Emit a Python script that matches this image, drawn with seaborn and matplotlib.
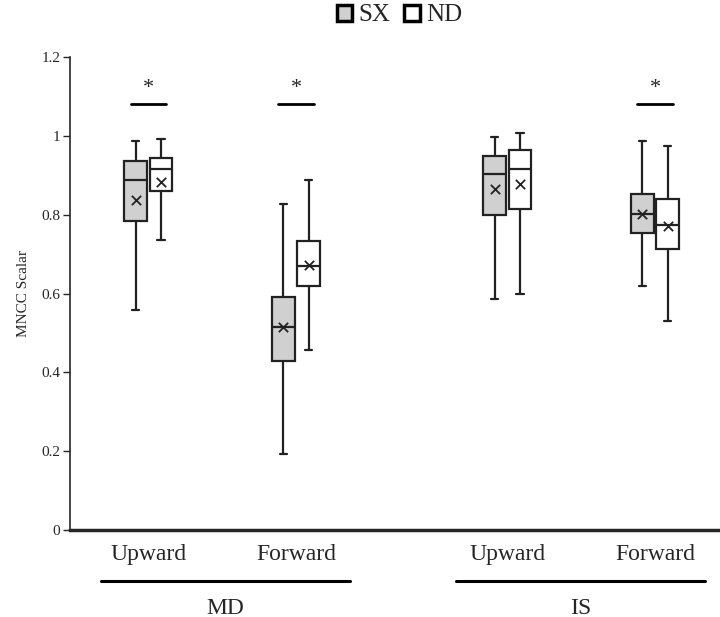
import matplotlib.pyplot as plt
from matplotlib.patches import Patch
import matplotlib.transforms as mtransforms
import pandas as pd
import numpy as np
import seaborn as sns

### Dados ######################################################################
grupos = ["MD", "MD", "IS", "IS"]
direcoes = ["Upward", "Forward", "Upward", "Forward"]
sexos = ["SX", "ND"]

sx_min = [0.558, 0.193, 0.587, 0.618]
sx_q1 = [0.783, 0.430, 0.799, 0.753]
sx_med = [0.888, 0.516, 0.903, 0.801]
sx_q3 = [0.936, 0.590, 0.948, 0.853]
sx_max = [0.987, 0.826, 0.997, 0.987]
sx_media = [0.838, 0.516, 0.866, 0.801]

nd_min = [0.735, 0.457, 0.600, 0.530]
nd_q1 = [0.860, 0.620, 0.815, 0.713]
nd_med = [0.917, 0.670, 0.916, 0.774]
nd_q3 = [0.945, 0.733, 0.963, 0.839]
nd_max = [0.992, 0.887, 1.007, 0.974]
nd_media = [0.884, 0.672, 0.878, 0.770]

significativo = [True, True, False, True]

### Layout #####################################################################
posicao = [0.0, 1.0, 2.43, 3.43]   # centro de cada par (MD | IS separados)
largura = 0.345
desloc = largura / 4
cor_linha = "#222222"
cores = {"SX": "#d0d0d0", "ND": "white"}

### Tabela longa para o seaborn ################################################
linhas = []
for i in range(len(posicao)):
	for sexo, cinco in (("SX", (sx_min, sx_q1, sx_med, sx_q3, sx_max)),
						("ND", (nd_min, nd_q1, nd_med, nd_q3, nd_max))):
		for serie in cinco:
			linhas.append({"pos": posicao[i], "sexo": sexo, "valor": serie[i]})
dados = pd.DataFrame(linhas)

sns.set_style("ticks")
plt.rcParams["font.family"] = ["Liberation Serif", "DejaVu Serif"]

fig = plt.figure(figsize = (7.2, 6.17), dpi = 100)
ax = fig.add_axes([0.0972, 0.141, 0.9028, 0.7666])

sns.boxplot(data = dados, x = "pos", y = "valor", hue = "sexo", hue_order = sexos,
			native_scale = True, dodge = True, width = largura, gap = 0.1,
			whis = (0, 100), palette = cores, saturation = 1,
			linecolor = cor_linha, linewidth = 1.6, legend = False, ax = ax,
			capwidths = 0.05)

# médias (x)
pos_sx = [p - desloc for p in posicao]
pos_nd = [p + desloc for p in posicao]
sns.scatterplot(x = pos_sx, y = sx_media, marker = "x", color = cor_linha, s = 45,
				linewidth = 1.3, legend = False, ax = ax, zorder = 5)
sns.scatterplot(x = pos_nd, y = nd_media, marker = "x", color = cor_linha, s = 45,
				linewidth = 1.3, legend = False, ax = ax, zorder = 5)

# significância
for p, sig in zip(posicao, significativo):
	if sig:
		ax.plot([p - 0.12, p + 0.12], [1.081, 1.081], color = "black", linewidth = 2)
		ax.text(p, 1.12, "*", ha = "center", va = "center", fontsize = 16)

ax.set_xlim(-0.53, 3.87)
ax.set_ylim(0, 1.2)
ax.set_yticks([0, 0.2, 0.4, 0.6, 0.8, 1.0, 1.2])
ax.set_yticklabels(["0", "0.2", "0.4", "0.6", "0.8", "1", "1.2"], fontsize = 11)
ax.set_xticks(posicao)
ax.set_xticklabels(direcoes, fontsize = 17)
ax.tick_params(axis = "x", length = 0, pad = 10)
ax.tick_params(axis = "y", length = 5, width = 1, direction = "out", pad = 2)
ax.set_xlabel("")
ax.set_ylabel("MNCC Scalar", fontsize = 11, labelpad = 8)
for lado in ["top", "right"]:
	ax.spines[lado].set_visible(False)
ax.spines["left"].set_linewidth(1.2)
ax.spines["bottom"].set_linewidth(2.5)

# rótulos dos grupos
trans = mtransforms.blended_transform_factory(ax.transData, ax.transAxes)
for nome, (x0, x1) in (("MD", (-0.32, 1.363)), ("IS", (2.085, 3.767))):
	ax.plot([x0, x1], [-0.108, -0.108], transform = trans, color = "black",
			linewidth = 2.2, clip_on = False)
	ax.text((x0 + x1) / 2, -0.165, nome, transform = trans, ha = "center",
			va = "center", fontsize = 17)

# legenda
alcas = [Patch(facecolor = cores[s], edgecolor = "black", linewidth = 2.5, label = s) for s in sexos]
fig.legend(handles = alcas, loc = "center", bbox_to_anchor = (0.555, 0.975), ncol = 2,
			frameon = False, fontsize = 18, handlelength = 0.62, handleheight = 0.62,
			handletextpad = 0.25, columnspacing = 0.55)

plt.savefig("out.png", dpi = 100)
